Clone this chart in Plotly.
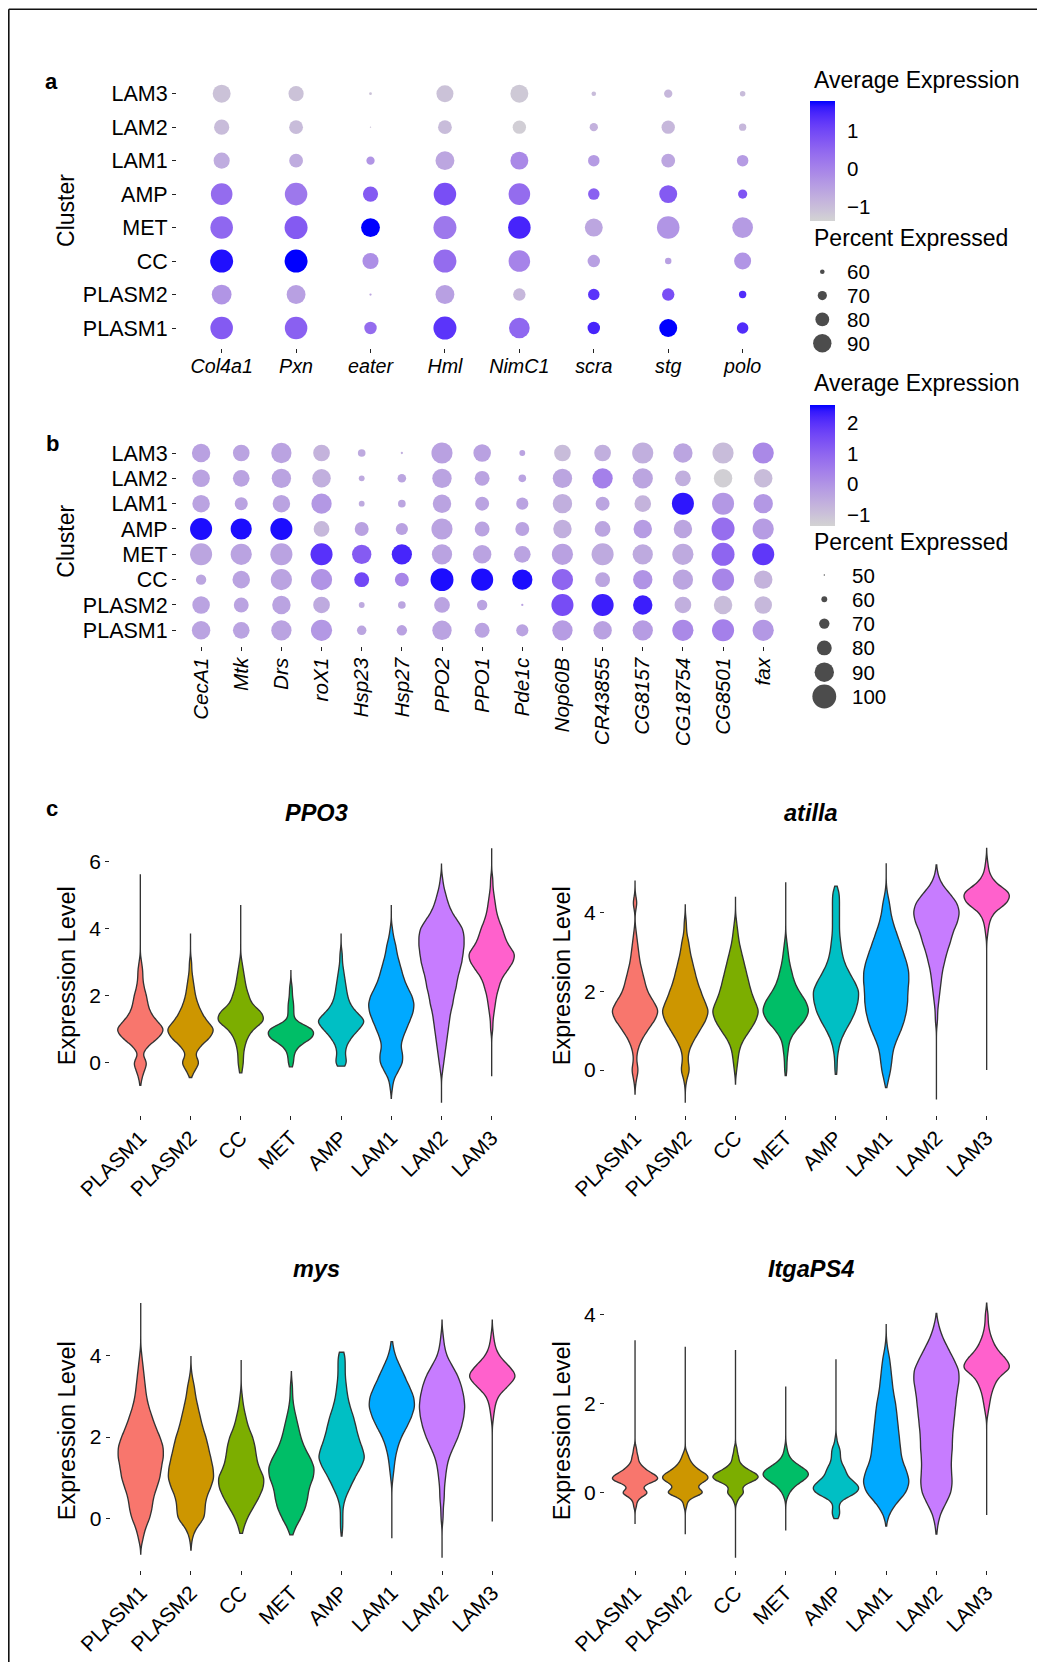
import numpy as np
import plotly.graph_objects as go

# page has an 8px body margin: the figure is drawn 8px in from the top-left corner
OFF = 8
W, H = 1045 - 2 * OFF, 1670 - 2 * OFF
FONT = "Liberation Sans, Arial, Helvetica, sans-serif"

CLUSTERS = ['PLASM1', 'PLASM2', 'CC', 'MET', 'AMP', 'LAM1', 'LAM2', 'LAM3']
HUE = ['#F8766D', '#CD9600', '#7CAE00', '#00BE67', '#00BFC4', '#00A9FF', '#C77CFF', '#FF61CC']

# ---------------- Panel a: dot plot ----------------
GENES_A = ['Col4a1', 'Pxn', 'eater', 'Hml', 'NimC1', 'scra', 'stg', 'polo']
# values ordered as CLUSTERS (PLASM1 ... LAM3)
AVG_A = {
    'Col4a1': [0.7, -0.3, 1.7, 0.5, 0.4, -0.7, -1.0, -1.1],
    'Pxn':    [0.6, -0.5, 1.8, 0.7, 0.2, -0.7, -1.0, -1.1],
    'eater':  [0.4, -0.6, -0.2, 1.8, 0.7, -0.3, -1.1, -1.1],
    'Hml':    [1.3, -0.5, 0.4, 0.2, 0.9, -0.6, -1.0, -1.1],
    'NimC1':  [0.5, -0.9, 0.0, 1.5, 0.4, -0.1, -1.3, -1.2],
    'scra':   [1.5, 1.3, -0.5, -0.6, 0.6, -0.4, -0.8, -1.0],
    'stg':    [1.8, 0.9, -0.5, -0.3, 0.7, -0.6, -0.9, -0.9],
    'polo':   [1.4, 1.4, -0.3, -0.4, 0.8, -0.4, -0.9, -1.0],
}
PCT_A = {
    'Col4a1': [99, 93, 100, 99, 97, 85, 83, 89],
    'Pxn':    [99, 91, 100, 100, 99, 80, 80, 83],
    'eater':  [77, 55, 85, 91, 83, 68, 53, 56],
    'Hml':    [100, 91, 100, 100, 99, 91, 80, 87],
    'NimC1':  [95, 77, 97, 99, 97, 89, 79, 89],
    'scra':   [77, 75, 77, 89, 75, 75, 68, 60],
    'stg':    [89, 77, 64, 99, 89, 80, 79, 68],
    'polo':   [75, 66, 87, 95, 70, 75, 66, 62],
}
CRANGE_A = [-1.38, 1.80]
CTICKS_A = [1, 0, -1]
LEG_PCT_A = [60, 70, 80, 90]

# ---------------- Panel b: dot plot ----------------
GENES_B = ['CecA1', 'Mtk', 'Drs', 'roX1', 'Hsp23', 'Hsp27', 'PPO2', 'PPO1', 'Pde1c',
           'Nop60B', 'CR43855', 'CG8157', 'CG18754', 'CG8501', 'fax']
AVG_B = {
    'CecA1':   [-0.35, -0.35, -0.4, -0.4, 2.47, -0.35, -0.35, -0.3],
    'Mtk':     [-0.35, -0.35, -0.35, -0.35, 2.47, -0.35, -0.35, -0.35],
    'Drs':     [-0.35, -0.35, -0.35, -0.35, 2.47, -0.35, -0.35, -0.35],
    'roX1':    [-0.1, -0.5, 0.0, 2.0, -0.8, -0.1, -0.6, -0.7],
    'Hsp23':   [-0.4, -0.5, 1.6, 1.2, -0.3, -0.5, -0.5, -0.5],
    'Hsp27':   [-0.3, -0.4, 0.3, 2.2, -0.3, -0.4, -0.4, -0.6],
    'PPO2':    [-0.35, -0.35, 2.47, -0.35, -0.35, -0.35, -0.35, -0.3],
    'PPO1':    [-0.35, -0.35, 2.47, -0.35, -0.35, -0.35, -0.35, -0.3],
    'Pde1c':   [-0.35, -0.35, 2.47, -0.35, -0.35, -0.35, -0.35, -0.35],
    'Nop60B':  [-0.2, 1.5, 1.0, -0.3, -0.6, -0.6, -0.4, -0.9],
    'CR43855': [-0.3, 2.3, -0.4, -0.5, -0.4, -0.4, 0.4, -0.6],
    'CG8157':  [-0.2, 2.3, 0.0, -0.5, -0.2, -0.7, -0.4, -0.6],
    'CG18754': [0.2, -0.6, -0.4, -0.5, -0.4, 2.4, -0.6, -0.4],
    'CG8501':  [0.4, -0.9, 0.3, 1.0, 0.8, -0.1, -1.3, -0.9],
    'fax':     [-0.1, -0.8, -0.7, 1.9, -0.2, -0.1, -0.9, 0.2],
}
PCT_B = {
    'CecA1':   [88, 86, 70, 96, 96, 86, 86, 88],
    'Mtk':     [84, 80, 86, 94, 94, 76, 84, 84],
    'Drs':     [92, 88, 94, 96, 96, 86, 90, 92],
    'roX1':    [94, 84, 94, 96, 82, 92, 88, 84],
    'Hsp23':   [68, 60, 80, 90, 78, 60, 60, 64],
    'Hsp27':   [70, 64, 78, 92, 74, 64, 66, 52],
    'PPO2':    [90, 82, 98, 92, 94, 88, 90, 94],
    'PPO1':    [80, 70, 96, 88, 80, 78, 80, 86],
    'Pde1c':   [74, 52, 92, 84, 78, 74, 64, 60],
    'Nop60B':  [92, 96, 94, 94, 88, 90, 90, 84],
    'CR43855': [88, 96, 80, 96, 82, 78, 92, 84],
    'CG8157':  [92, 90, 90, 92, 88, 84, 92, 94],
    'CG18754': [94, 84, 92, 94, 88, 96, 82, 90],
    'CG8501':  [96, 88, 96, 98, 98, 96, 88, 94],
    'fax':     [94, 86, 88, 96, 94, 90, 88, 94],
}
CRANGE_B = [-1.38, 2.58]
CTICKS_B = [2, 1, 0, -1]
LEG_PCT_B = [50, 60, 70, 80, 90, 100]

# ---------------- Panel c: violin data (expression level : number of cells) ----------------
PPO3_CELLS = {
    'PLASM1': [(-0.5, 1), (-0.25, 3), (0, 6), (0.25, 1), (0.5, 6), (0.75, 15), (1.0, 20), (1.25, 13), (1.5, 8), (1.75, 6), (2.0, 5), (2.25, 3), (2.5, 2), (2.75, 2), (3.0, 1)],
    'PLASM2': [(-0.25, 3), (0, 8), (0.25, 3), (0.5, 8), (0.75, 16), (1.0, 20), (1.25, 13), (1.5, 9), (1.75, 6), (2.0, 4), (2.25, 3), (2.5, 2), (2.75, 1), (3.0, 1)],
    'CC':     [(-0.25, 1), (0, 2), (0.25, 2), (0.5, 3), (0.75, 5), (1.0, 9), (1.25, 18), (1.5, 16), (1.75, 8), (2.0, 6), (2.25, 4), (2.5, 3), (2.75, 2), (3.0, 1)],
    'MET':    [(0, 2), (0.25, 2), (0.5, 5), (0.75, 16), (1.0, 17), (1.25, 2), (1.5, 2), (1.75, 2), (2.0, 1), (2.25, 1)],
    'AMP':    [(0, 5), (0.25, 3), (0.5, 4), (0.75, 8), (1.0, 14), (1.25, 20), (1.5, 12), (1.75, 7), (2.0, 5), (2.25, 4), (2.5, 3), (2.75, 2), (3.0, 1), (3.25, 1)],
    'LAM1':   [(-0.75, 1), (-0.5, 2), (-0.25, 6), (0, 10), (0.25, 10), (0.5, 8), (0.75, 10), (1.0, 13), (1.25, 16), (1.5, 19), (1.75, 20), (2.0, 18), (2.25, 14), (2.5, 11), (2.75, 9), (3.0, 7), (3.25, 5), (3.5, 4), (3.75, 2), (4.0, 1)],
    'LAM2':   [(-0.25, 1), (0, 2), (0.25, 3), (0.5, 4), (0.75, 5), (1.0, 6), (1.25, 7), (1.5, 8), (1.75, 10), (2.0, 11), (2.25, 13), (2.5, 14), (2.75, 16), (3.0, 18), (3.25, 19), (3.5, 20), (3.75, 20), (4.0, 19), (4.25, 14), (4.5, 9), (4.75, 6), (5.0, 4), (5.25, 2), (5.5, 1)],
    'LAM3':   [(1.0, 1), (1.25, 1), (1.5, 2), (1.75, 3), (2.0, 4), (2.25, 6), (2.5, 8), (2.75, 13), (3.0, 18), (3.25, 20), (3.5, 14), (3.75, 11), (4.0, 9), (4.25, 6), (4.5, 4), (4.75, 3), (5.0, 2), (5.25, 1), (5.5, 1)],
}
PPO3_MIN = [-0.67, -0.44, -0.30, -0.12, -0.10, -1.06, -1.19, -0.40]
PPO3_MAX = [5.63, 3.86, 4.71, 2.77, 3.86, 4.71, 5.93, 6.40]
PPO3_BW = [0.15] * 8

ATILLA_CELLS = {
    'PLASM1': [(-0.25, 1), (0, 3), (0.25, 1), (0.5, 2), (0.75, 5), (1.0, 10), (1.25, 16), (1.5, 20), (1.75, 15), (2.0, 10), (2.25, 8), (2.5, 6), (2.75, 4), (3.0, 3), (3.25, 2), (3.5, 1), (4.25, 2)],
    'PLASM2': [(-0.25, 1), (0, 4), (0.25, 2), (0.5, 3), (0.75, 7), (1.0, 12), (1.25, 17), (1.5, 20), (1.75, 16), (2.0, 13), (2.25, 10), (2.5, 8), (2.75, 6), (3.0, 4), (3.25, 3), (3.5, 1), (3.75, 1)],
    'CC':     [(0, 1), (0.25, 2), (0.5, 3), (0.75, 6), (1.0, 12), (1.25, 17), (1.5, 20), (1.75, 16), (2.0, 13), (2.25, 11), (2.5, 9), (2.75, 7), (3.0, 5), (3.25, 3), (3.5, 2), (3.75, 1)],
    'MET':    [(0, 1), (0.25, 1), (0.5, 2), (0.75, 3), (1.0, 8), (1.25, 16), (1.5, 20), (1.75, 17), (2.0, 11), (2.25, 7), (2.5, 5), (2.75, 3), (3.0, 2), (3.25, 1)],
    'AMP':    [(0, 1), (0.25, 1), (0.5, 2), (0.75, 4), (1.0, 8), (1.25, 13), (1.5, 17), (1.75, 19), (2.0, 20), (2.25, 16), (2.5, 11), (2.75, 7), (3.0, 5), (3.25, 4), (3.5, 3), (3.75, 3), (4.0, 3), (4.25, 3), (4.5, 3)],
    'LAM1':   [(-0.25, 2), (0, 4), (0.25, 5), (0.5, 6), (0.75, 9), (1.0, 13), (1.25, 16), (1.5, 18), (1.75, 19), (2.0, 19), (2.25, 20), (2.5, 20), (2.75, 18), (3.0, 15), (3.25, 12), (3.5, 9), (3.75, 6), (4.0, 4), (4.25, 3), (4.5, 1)],
    'LAM2':   [(1.25, 1), (1.5, 1), (1.75, 2), (2.0, 3), (2.25, 4), (2.5, 5), (2.75, 7), (3.0, 9), (3.25, 12), (3.5, 14), (3.75, 18), (4.0, 20), (4.25, 18), (4.5, 11), (4.75, 4), (5.0, 1)],
    'LAM3':   [(3.5, 1), (3.75, 2), (4.0, 5), (4.25, 17), (4.5, 20), (4.75, 7), (5.0, 2), (5.25, 1)],
}
ATILLA_MIN = [-0.61, -0.83, -0.36, -0.14, -0.11, -0.45, -0.75, 0.0]
ATILLA_MAX = [4.82, 4.20, 4.41, 4.78, 4.68, 5.26, 5.22, 5.64]
ATILLA_BW = [0.15] * 8

MYS_CELLS = {
    'PLASM1': [(-0.5, 2), (-0.25, 4), (0, 8), (0.25, 10), (0.5, 11), (0.75, 14), (1.0, 17), (1.25, 18), (1.5, 20), (1.75, 20), (2.0, 17), (2.25, 13), (2.5, 10), (2.75, 7), (3.0, 5), (3.25, 4), (3.5, 3), (3.75, 2), (4.0, 1)],
    'PLASM2': [(-0.5, 1), (-0.25, 4), (0, 12), (0.25, 12), (0.5, 13), (0.75, 17), (1.0, 20), (1.25, 19), (1.5, 17), (1.75, 15), (2.0, 13), (2.25, 10), (2.5, 8), (2.75, 6), (3.0, 4), (3.25, 3), (3.5, 1)],
    'CC':     [(-0.25, 2), (0, 5), (0.25, 10), (0.5, 15), (0.75, 19), (1.0, 20), (1.25, 15), (1.5, 13), (1.75, 12), (2.0, 10), (2.25, 6), (2.5, 4), (2.75, 2), (3.0, 1)],
    'MET':    [(-0.25, 3), (0, 8), (0.25, 12), (0.5, 14), (0.75, 15), (1.0, 19), (1.25, 20), (1.5, 16), (1.75, 11), (2.0, 8), (2.25, 6), (2.5, 4), (2.75, 2), (3.0, 1), (3.25, 1)],
    'AMP':    [(-0.25, 1), (0, 1), (0.25, 1), (0.5, 3), (0.75, 7), (1.0, 11), (1.25, 16), (1.5, 20), (1.75, 17), (2.0, 14), (2.25, 12), (2.5, 10), (2.75, 7), (3.0, 5), (3.25, 4), (3.5, 3), (3.75, 3), (4.0, 3)],
    'LAM1':   [(1.0, 1), (1.25, 2), (1.5, 3), (1.75, 5), (2.0, 8), (2.25, 13), (2.5, 17), (2.75, 20), (3.0, 19), (3.25, 15), (3.5, 11), (3.75, 7), (4.0, 3), (4.25, 1)],
    'LAM2':   [(0, 1), (0.25, 1), (0.5, 2), (0.75, 2), (1.0, 3), (1.25, 4), (1.5, 6), (1.75, 10), (2.0, 14), (2.25, 17), (2.5, 19), (2.75, 20), (3.0, 19), (3.25, 17), (3.5, 14), (3.75, 9), (4.0, 4), (4.25, 2), (4.5, 1)],
    'LAM3':   [(2.5, 1), (2.75, 2), (3.0, 4), (3.25, 12), (3.5, 20), (3.75, 13), (4.0, 5), (4.25, 2), (4.5, 1)],
}
MYS_MIN = [-0.88, -0.78, -0.37, -0.41, -0.44, -0.49, -0.97, -0.08]
MYS_MAX = [5.30, 3.98, 3.90, 3.61, 4.09, 4.35, 4.88, 4.88]
MYS_BW = [0.15] * 8

ITGAPS4_CELLS = {
    'PLASM1': [(-0.3, 1), (-0.2, 1), (-0.1, 3), (0, 10), (0.1, 3), (0.2, 7), (0.3, 16), (0.4, 12), (0.5, 7), (0.6, 4), (0.7, 2), (0.8, 2), (0.9, 1), (1.0, 1)],
    'PLASM2': [(-0.3, 1), (-0.2, 1), (-0.1, 4), (0, 13), (0.1, 6), (0.2, 8), (0.3, 14), (0.4, 13), (0.5, 8), (0.6, 5), (0.7, 3), (0.8, 2), (0.9, 1)],
    'CC':     [(-0.2, 1), (-0.1, 2), (0, 6), (0.1, 3), (0.2, 6), (0.3, 14), (0.4, 14), (0.5, 8), (0.6, 4), (0.7, 2), (0.8, 2), (0.9, 1), (1.0, 1)],
    'MET':    [(-0.1, 1), (0, 2), (0.1, 4), (0.2, 7), (0.3, 12), (0.4, 16), (0.5, 14), (0.6, 8), (0.7, 4), (0.8, 2), (0.9, 1), (1.0, 1)],
    'AMP':    [(-0.55, 2), (-0.45, 3), (-0.35, 2), (-0.25, 2), (-0.15, 4), (-0.05, 12), (0.05, 16), (0.15, 16), (0.25, 12), (0.35, 8), (0.45, 7), (0.55, 6), (0.65, 4), (0.75, 3), (0.85, 3), (0.95, 3), (1.05, 2), (1.2, 1)],
    'LAM1':   [(-0.5, 2), (-0.25, 8), (0, 17), (0.25, 20), (0.5, 17), (0.75, 13), (1.0, 12), (1.25, 11), (1.5, 10), (1.75, 9), (2.0, 8), (2.25, 6), (2.5, 5), (2.75, 4), (3.0, 3), (3.25, 1)],
    'LAM2':   [(-0.75, 1), (-0.5, 3), (-0.25, 8), (0, 13), (0.25, 14), (0.5, 13), (0.75, 13), (1.0, 14), (1.25, 14), (1.5, 15), (1.75, 16), (2.0, 17), (2.25, 18), (2.5, 20), (2.75, 20), (3.0, 15), (3.25, 10), (3.5, 5), (3.75, 2)],
    'LAM3':   [(1.8, 1), (2.0, 2), (2.2, 3), (2.4, 5), (2.6, 8), (2.8, 17), (3.0, 13), (3.2, 7), (3.4, 4), (3.6, 2), (3.8, 1), (4.0, 1)],
}
ITGAPS4_MIN = [-0.70, -0.93, -1.46, -0.85, -0.58, -0.75, -0.93, -0.50]
ITGAPS4_MAX = [3.42, 3.27, 3.20, 2.38, 2.99, 3.78, 4.02, 4.25]
ITGAPS4_BW = [0.07, 0.07, 0.07, 0.10, 0.08, 0.15, 0.15, 0.12]

VIOLIN_YRANGE = {'PPO3': [-1.57, 6.78], 'atilla': [-1.155, 5.964], 'mys': [-1.283, 5.608], 'ItgaPS4': [-1.742, 4.531]}
VIOLIN_YTICKS = {'PPO3': [0, 2, 4, 6], 'atilla': [0, 2, 4], 'mys': [0, 2, 4], 'ItgaPS4': [0, 2, 4]}


# ---------------- helpers (page pixel -> paper) ----------------
def px2x(px):
    return (px - OFF) / W


def px2y(py):
    return 1 - (py - OFF) / H


def size_a(p):
    return max(0.46 * (p - 50), 0.8)


def size_b(p):
    return max(0.45 * (p - 47), 0.8)


# ggplot-like Lab interpolation lightgrey -> blue
M = np.array([[0.4124564, 0.3575761, 0.1804375],
              [0.2126729, 0.7151522, 0.0721750],
              [0.0193339, 0.1191920, 0.9503041]])
MINV = np.linalg.inv(M)
WHITE = M @ np.ones(3)


def _lin(c):
    c = np.asarray(c, float) / 255.0
    return np.where(c <= 0.04045, c / 12.92, ((c + 0.055) / 1.055) ** 2.4)


def _gam(c):
    c = np.clip(c, 0, 1)
    v = np.where(c <= 0.0031308, 12.92 * c, 1.055 * np.power(c, 1 / 2.4) - 0.055)
    return np.clip(np.round(v * 255), 0, 255).astype(int)


def _f(t):
    d = 6 / 29
    return np.where(t > d ** 3, np.cbrt(t), t / (3 * d * d) + 4 / 29)


def _finv(t):
    d = 6 / 29
    return np.where(t > d, t ** 3, 3 * d * d * (t - 4 / 29))


def rgb2lab(rgb):
    xyz = M @ _lin(rgb)
    fx, fy, fz = _f(xyz / WHITE)
    return np.array([116 * fy - 16, 500 * (fx - fy), 200 * (fy - fz)])


def lab2rgb(lab):
    L, a, b = lab
    fy = (L + 16) / 116
    fx = fy + a / 500
    fz = fy - b / 200
    xyz = WHITE * _finv(np.array([fx, fy, fz]))
    return _gam(MINV @ xyz)


LAB0 = rgb2lab([211, 211, 211])
LAB1 = rgb2lab([0, 0, 255])
CSCALE = []
for t in np.linspace(0, 1, 21):
    r, g, b = lab2rgb(LAB0 + (LAB1 - LAB0) * t)
    CSCALE.append([float(t), f'rgb({r},{g},{b})'])

fig = go.Figure()

# ---------------- dot plots ----------------
for genes, avg, pct, sfun, ax, cax in [
    (GENES_A, AVG_A, PCT_A, size_a, ('x', 'y'), 'coloraxis'),
    (GENES_B, AVG_B, PCT_B, size_b, ('x2', 'y2'), 'coloraxis2'),
]:
    xs, ys, cs, ss = [], [], [], []
    for g in genes:
        for i, c in enumerate(CLUSTERS):
            xs.append(g)
            ys.append(c)
            cs.append(avg[g][i])
            ss.append(sfun(pct[g][i]))
    fig.add_trace(go.Scatter(x=xs, y=ys, mode='markers', xaxis=ax[0], yaxis=ax[1],
                             marker=dict(size=ss, color=cs, coloraxis=cax, line=dict(width=0), opacity=1),
                             showlegend=False, hoverinfo='skip'))

# ---------------- violins ----------------
VIOLINS = [
    ('PPO3', PPO3_CELLS, PPO3_MIN, PPO3_MAX, PPO3_BW, 'x3', 'y3'),
    ('atilla', ATILLA_CELLS, ATILLA_MIN, ATILLA_MAX, ATILLA_BW, 'x4', 'y4'),
    ('mys', MYS_CELLS, MYS_MIN, MYS_MAX, MYS_BW, 'x5', 'y5'),
    ('ItgaPS4', ITGAPS4_CELLS, ITGAPS4_MIN, ITGAPS4_MAX, ITGAPS4_BW, 'x6', 'y6'),
]
for gene, cells, vmin, vmax, bws, xa, ya in VIOLINS:
    for i, c in enumerate(CLUSTERS):
        lv = [p[0] for p in cells[c]]
        nn = [p[1] for p in cells[c]]
        vals = np.repeat(lv, nn)
        fig.add_trace(go.Violin(
            x=[c] * len(vals), y=vals, xaxis=xa, yaxis=ya,
            width=0.9, scalemode='width', spanmode='manual', span=[vmin[i], vmax[i]],
            bandwidth=bws[i], points=False, box_visible=False, meanline_visible=False,
            fillcolor=HUE[i], line=dict(color='#333333', width=1.35), opacity=1,
            showlegend=False, hoverinfo='skip'))

# ---------------- size legends (overlay axis in page pixel units) ----------------
LEG_A_Y0, LEG_A_STEP, LEG_A_X = 271.7, 23.85, 822.3
LEG_B_Y0, LEG_B_STEP, LEG_B_X = 575.0, 24.3, 824.3
fig.add_trace(go.Scatter(
    x=[LEG_A_X] * len(LEG_PCT_A), y=[LEG_A_Y0 + k * LEG_A_STEP for k in range(len(LEG_PCT_A))],
    mode='markers', marker=dict(size=[size_a(v) for v in LEG_PCT_A], color='black', line=dict(width=0)),
    xaxis='x7', yaxis='y7', showlegend=False, hoverinfo='skip'))
fig.add_trace(go.Scatter(
    x=[LEG_B_X] * len(LEG_PCT_B), y=[LEG_B_Y0 + k * LEG_B_STEP for k in range(len(LEG_PCT_B))],
    mode='markers', marker=dict(size=[size_b(v) for v in LEG_PCT_B], color='black', line=dict(width=0)),
    xaxis='x7', yaxis='y7', showlegend=False, hoverinfo='skip'))

annotations = []
shapes = []


def ann(text, x, y, size, xanchor='center', yanchor='middle', angle=0, bold=False, color='black'):
    annotations.append(dict(text=text, x=px2x(x), y=px2y(y), xref='paper', yref='paper',
                            xanchor=xanchor, yanchor=yanchor, showarrow=False, textangle=angle,
                            font=dict(family=FONT, size=size, color=color,
                                      weight='bold' if bold else 'normal')))


for k, v in enumerate(LEG_PCT_A):
    ann(str(v), 845, LEG_A_Y0 + k * LEG_A_STEP, 20.5, xanchor='left')
for k, v in enumerate(LEG_PCT_B):
    ann(str(v), 850, LEG_B_Y0 + k * LEG_B_STEP, 20.5, xanchor='left')

# colorbars: tick labels and white tick marks
CB = [
    (CRANGE_A, CTICKS_A, 100.7, 120.3),
    (CRANGE_B, CTICKS_B, 405.0, 120.7),
]
BAR_L, BAR_T = 810.0, 25.0
for crange, cticks, top, ln in CB:
    for v in cticks:
        yy = top + (crange[1] - v) / (crange[1] - crange[0]) * ln
        lab = ('\u2212' + str(abs(v))) if v < 0 else str(v)
        ann(lab, 845, yy, 20.5, xanchor='left')
        for x0, x1 in [(BAR_L, BAR_L + 5), (BAR_L + BAR_T - 5, BAR_L + BAR_T)]:
            shapes.append(dict(type='line', xref='paper', yref='paper', x0=px2x(x0), x1=px2x(x1),
                               y0=px2y(yy), y1=px2y(yy), line=dict(color='white', width=1.2), layer='above'))

ann('Average Expression', 811.7, 80, 23, xanchor='left')
ann('Percent Expressed', 811.7, 238.3, 23, xanchor='left')
ann('Average Expression', 811.7, 383.3, 23, xanchor='left')
ann('Percent Expressed', 811.7, 541.7, 23, xanchor='left')

# panel letters
ann('a', 51.7, 81.7, 22, bold=True)
ann('b', 52.5, 444, 22, bold=True)
ann('c', 51.7, 808.3, 22, bold=True)

# axis titles
ann('Cluster', 66, 210.9, 23, angle=-90)
ann('Cluster', 66, 541.7, 23, angle=-90)
ann('Expression Level', 66.7, 975.5, 23.5, angle=-90)
ann('Expression Level', 561.7, 975.5, 23.5, angle=-90)
ann('Expression Level', 66.7, 1430.5, 23.5, angle=-90)
ann('Expression Level', 561.7, 1430.5, 23.5, angle=-90)

# violin titles
ann('<b><i>PPO3</i></b>', 316.0, 813.3, 23.5)
ann('<b><i>atilla</i></b>', 810.85, 813.3, 23.5)
ann('<b><i>mys</i></b>', 316.5, 1269.3, 23.5)
ann('<b><i>ItgaPS4</i></b>', 810.85, 1269.3, 23.5)

# frame lines (top and left)
shapes.append(dict(type='line', xref='paper', yref='paper', x0=px2x(8.8), x1=1.0, y0=px2y(9.3), y1=px2y(9.3),
                   line=dict(color='#111111', width=1.6)))
shapes.append(dict(type='line', xref='paper', yref='paper', x0=px2x(8.8), x1=px2x(8.8), y0=px2y(9.3), y1=0,
                   line=dict(color='#111111', width=1.6)))

tick_y = dict(family=FONT, size=21.5, color='black')
tick_a = dict(family=FONT, size=19.7, color='black', style='italic')
tick_b = dict(family=FONT, size=20.7, color='black', style='italic')
tick_v = dict(family=FONT, size=21, color='black')
common = dict(showgrid=False, zeroline=False, showline=False, ticks='outside', ticklen=4,
              tickwidth=1.1, tickcolor='#222222', fixedrange=True)


def cat_axis(domain, cats, anchor, font, angle=None, standoff=None):
    d = dict(common, domain=domain, type='category', categoryorder='array', categoryarray=cats,
             range=[-0.6, len(cats) - 0.4], anchor=anchor, tickfont=font,
             tickmode='array', tickvals=cats, ticktext=cats)
    if angle is not None:
        d['tickangle'] = angle
    if standoff is not None:
        d['ticklabelstandoff'] = standoff
    return d


layout = dict(
    width=W, height=H, template='none',
    margin=dict(l=0, r=0, t=0, b=0, pad=0, autoexpand=False),
    paper_bgcolor='white', plot_bgcolor='rgba(0,0,0,0)',
    font=dict(family=FONT, color='black'),
    violinmode='overlay', showlegend=False,
    annotations=annotations, shapes=shapes,
    coloraxis=dict(cmin=CRANGE_A[0], cmax=CRANGE_A[1], colorscale=CSCALE,
                   colorbar=dict(x=px2x(BAR_L), xanchor='left', y=px2y(100.7 + 120.3 / 2), yanchor='middle',
                                 len=120.3, lenmode='pixels', thickness=BAR_T, thicknessmode='pixels',
                                 outlinewidth=0, xpad=0, ypad=0, showticklabels=False, ticks='',
                                 title=dict(text=''))),
    coloraxis2=dict(cmin=CRANGE_B[0], cmax=CRANGE_B[1], colorscale=CSCALE,
                    colorbar=dict(x=px2x(BAR_L), xanchor='left', y=px2y(405.0 + 120.7 / 2), yanchor='middle',
                                  len=120.7, lenmode='pixels', thickness=BAR_T, thicknessmode='pixels',
                                  outlinewidth=0, xpad=0, ypad=0, showticklabels=False, ticks='',
                                  title=dict(text=''))),
    xaxis=cat_axis([px2x(177), px2x(787.3)], GENES_A, 'y', tick_a, standoff=-4),
    yaxis=cat_axis([px2y(348.1), px2y(73.6)], CLUSTERS, 'x', tick_y),
    xaxis2=cat_axis([px2x(177), px2x(787.3)], GENES_B, 'y2', tick_b, angle=-90, standoff=-1),
    yaxis2=cat_axis([px2y(645.5), px2y(437.8)], CLUSTERS, 'x2', tick_y),
    xaxis7=dict(domain=[0, 1], range=[OFF, OFF + W], visible=False, anchor='y7', fixedrange=True),
    yaxis7=dict(domain=[0, 1], range=[OFF + H, OFF], visible=False, anchor='x7', fixedrange=True),
)

VDOM = {
    'PPO3': ([110.2, 521.8], [1115.4, 835.6], 'x3', 'y3'),
    'atilla': ([604.9, 1016.8], [1115.4, 835.6], 'x4', 'y4'),
    'mys': ([110.6, 522.4], [1570.4, 1290.6], 'x5', 'y5'),
    'ItgaPS4': ([604.9, 1016.8], [1570.4, 1290.6], 'x6', 'y6'),
}
for gene, (xd, yd, xa, ya) in VDOM.items():
    xn = 'xaxis' + xa[1:]
    yn = 'yaxis' + ya[1:]
    layout[xn] = cat_axis([px2x(xd[0]), px2x(xd[1])], CLUSTERS, ya, tick_v, angle=-45, standoff=-3)
    layout[yn] = dict(common, domain=[px2y(yd[0]), px2y(yd[1])], range=VIOLIN_YRANGE[gene],
                      tickmode='array', tickvals=VIOLIN_YTICKS[gene], anchor=xa, tickfont=tick_v)

fig.update_layout(**layout)
fig.write_html("out.html")
